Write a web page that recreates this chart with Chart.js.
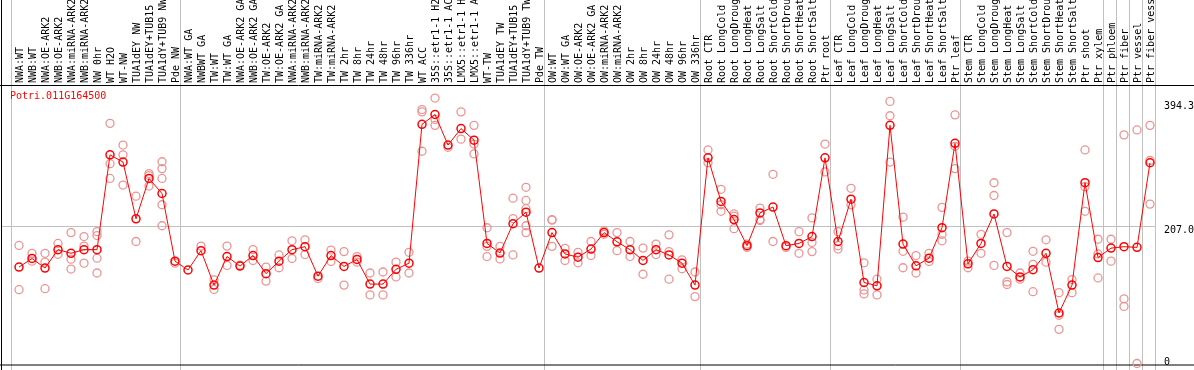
<!DOCTYPE html>
<html>
<head>
<meta charset="utf-8">
<script src="https://cdn.jsdelivr.net/npm/chart.js@4"></script>
<style>
  html, body { margin: 0; padding: 0; background: #fff; }
  canvas { display: block; }
</style>
</head>
<body>
<canvas id="myChart" width="1194" height="370"></canvas>
<script>
"use strict";

const geneName = "Potri.011G164500";

const categories = [
    "NWA:WT", "NWB:WT", "NWA:OE-ARK2", "NWB:OE-ARK2", "NWA:miRNA-ARK2", "NWB:miRNA-ARK2",
    "NW 0hr", "WT H2O", "WT-NW", "TUA1dEY NW", "TUA1dEY+TUB15", "TUA1dY+TUB9 NW", "Pde NW",
    "NWA:WT GA", "NWBWT GA", "TW:WT", "TW:WT GA", "NWA:OE-ARK2 GA", "NWB:OE-ARK2 GA",
    "TW:OE-ARK2", "TW:OE-ARK2 GA", "NWA:miRNA-ARK2", "NWB:miRNA-ARK2", "TW:miRNA-ARK2",
    "TW:miRNA-ARK2", "TW 2hr", "TW 8hr", "TW 24hr", "TW 48hr", "TW 96hr", "TW 336hr",
    "WT ACC", "35S::etr1-1 H2O", "35S::etr1-1 ACC", "LMX5::etr1-1 H2O", "LMX5::etr1-1 ACC",
    "WT-TW", "TUA1dEY TW", "TUA1dEY+TUB15", "TUA1dY+TUB9 TW", "Pde TW",
    "OW:WT", "OW:WT GA", "OW:OE-ARK2", "OW:OE-ARK2 GA", "OW:miRNA-ARK2", "OW:miRNA-ARK2",
    "OW 2hr", "OW 8hr", "OW 24hr", "OW 48hr", "OW 96hr", "OW 336hr",
    "Root CTR", "Root LongCold", "Root LongDrought", "Root LongHeat", "Root LongSalt",
    "Root ShortCold", "Root ShortDrought", "Root ShortHeat", "Root ShortSalt", "Ptr root",
    "Leaf CTR", "Leaf LongCold", "Leaf LongDrought", "Leaf LongHeat", "Leaf LongSalt",
    "Leaf ShortCold", "Leaf ShortDrought", "Leaf ShortHeat", "Leaf ShortSalt", "Ptr leaf",
    "Stem CTR", "Stem LongCold", "Stem LongDrought", "Stem LongHeat", "Stem LongSalt",
    "Stem ShortCold", "Stem ShortDrought", "Stem ShortHeat", "Stem ShortSalt", "Ptr shoot",
    "Ptr xylem", "Ptr phloem", "Ptr fiber", "Ptr vessel", "Ptr fiber vessel"
];

// index of the first category of every group (last entry = end)
const groupStarts = [0, 13, 41, 53, 63, 73, 84, 85, 86, 87, 88];

// mean expression per category
const expression = [
    144.9, 157.8, 143.4, 171.1, 165.6, 171.1, 171.1, 313.5, 302.7, 217.4, 278.0, 255.4, 153.8,
    140.5, 169.6, 117.8, 160.7, 146.4, 162.2, 135.0, 153.8, 171.1, 175.5, 131.2, 162.2, 145.9,
    156.3, 119.3, 119.3, 141.5, 150.8, 359.3, 374.1, 328.2, 352.9, 335.6, 180.4, 166.0, 210.0,
    227.3, 143.4,
    196.7, 164.6, 159.7, 172.0, 196.7, 182.9, 171.1, 154.8, 171.1, 163.1, 150.8, 117.8,
    309.0, 243.5, 216.3, 177.0, 226.2, 235.1, 177.0, 180.4, 190.7, 309.0,
    183.3, 246.9, 121.7, 116.8, 357.8, 179.4, 146.8, 158.2, 204.0, 330.8,
    149.8, 180.4, 224.7, 145.9, 130.1, 140.9, 165.6, 75.9, 117.8, 271.6, 159.2,
    173.4, 175.5, 174.5, 301.6
];

// single replicate values per category
const replicates = [
    [177.4, 110.9], [165.6, 153.8], [165.6, 152.3, 112.4], [180.4, 164.1], [196.7, 156.7, 141.9],
    [190.7, 176.4, 150.8], [198.1, 192.2, 158.2, 136.0], [360.8, 300.2, 278.0], [328.2, 313.5, 268.1],
    [251.4, 183.3], [285.4, 282.4, 266.6], [303.1, 292.8, 278.0, 238.5, 207.0], [150.8],
    [], [176.4], [111.3, 125.7], [176.4, 147.4], [147.9], [171.1, 154.8], [144.9, 123.8],
    [163.1, 143.9], [184.4, 157.8], [185.9, 163.7], [127.6], [170.5, 153.3], [168.1, 117.8],
    [160.7, 152.3], [136.0, 103.1], [137.5, 103.1], [152.3, 130.1], [167.1, 136.0],
    [381.5, 378.1, 318.9], [398.8, 366.7, 357.8], [324.8], [378.1, 337.1], [357.8, 329.7, 314.9],
    [204.0, 176.0, 160.7], [176.0, 157.2], [248.4, 217.8, 163.1], [264.7, 245.0, 232.6, 207.0, 196.7], [],
    [216.3, 215.4, 176.0], [173.0, 154.8], [167.1, 151.3], [183.3, 162.2], [199.2, 194.1],
    [196.7, 169.6], [183.3, 160.7], [173.4, 134.1], [179.4, 163.7], [193.3, 168.1, 126.7],
    [155.7, 142.4], [137.5, 100.5],
    [320.9, 301.6], [261.7, 238.5, 228.7], [224.7, 221.3, 202.6], [179.4, 174.5], [233.6, 216.3, 214.8],
    [284.3, 183.3], [174.5], [198.1, 165.6], [218.8, 181.9, 168.1], [329.7, 287.9],
    [198.1, 177.0, 172.0], [263.2, 238.5], [151.3, 110.5, 104.5], [126.7, 103.1], [393.8, 372.2, 302.7],
    [219.9, 168.6, 143.9], [162.2, 136.0], [165.6, 153.3], [234.6, 194.1, 184.4], [373.6, 326.3, 292.8],
    [153.8, 143.9], [194.1, 165.6], [271.6, 252.4, 147.4], [196.7, 122.7, 118.7], [136.0, 126.7],
    [168.6, 148.9, 107.9], [185.9, 152.3], [106.5, 72.5, 51.3], [126.1, 106.5], [320.9, 265.7, 228.7],
    [186.7, 164.6, 128.6],
    [186.7, 153.8], [343.5, 97.1, 85.8], [350.9, 0], [357.8, 305.0, 239.5]
];

const yTicks = [0, 207.0, 394.3];
const yTickLabels = ["0", "207.0", "394.3"];
const gridValue = 207.0;

const FONT = '10px "DejaVu Sans Mono", monospace';
const CELL_OFFSET = 8 / 13;   // points sit 8px into each 13px cell

const meanPoints = expression.map((v, i) => ({ x: i, y: v }));
const repPoints = [];
replicates.forEach((list, i) => list.forEach(v => repPoints.push({ x: i, y: v })));

const framePlugin = {
    id: 'frame',
    beforeDatasetsDraw(chart) {
        const ctx = chart.ctx;
        const xs = chart.scales.x;
        const ys = chart.scales.y;
        const area = chart.chartArea;
        const H = chart.height;
        const W = chart.width;
        ctx.save();
        ctx.lineWidth = 1;
        ctx.strokeStyle = '#c0c0c0';
        groupStarts.forEach(k => {
            const px = Math.round(xs.getPixelForValue(k - CELL_OFFSET)) + 0.5;
            ctx.beginPath();
            ctx.moveTo(px, 0);
            ctx.lineTo(px, H);
            ctx.stroke();
        });
        const gy = Math.round(ys.getPixelForValue(gridValue)) + 0.5;
        ctx.beginPath();
        ctx.moveTo(2, gy);
        ctx.lineTo(area.right + 1, gy);
        ctx.stroke();

        ctx.strokeStyle = '#000';
        ctx.beginPath();
        ctx.moveTo(1.5, 0);
        ctx.lineTo(1.5, H);
        ctx.moveTo(0, area.top + 0.5);
        ctx.lineTo(W, area.top + 0.5);
        ctx.moveTo(0, area.bottom + 0.5);
        ctx.lineTo(W, area.bottom + 0.5);
        ctx.stroke();
        ctx.restore();
    },
    afterDraw(chart) {
        const ctx = chart.ctx;
        const xs = chart.scales.x;
        const ys = chart.scales.y;
        const area = chart.chartArea;
        ctx.save();
        ctx.font = FONT;
        ctx.fillStyle = '#000';

        // category labels, rotated, standing on the frame line
        ctx.textAlign = 'left';
        ctx.textBaseline = 'middle';
        categories.forEach((label, i) => {
            const px = xs.getPixelForValue(i);
            ctx.save();
            ctx.translate(px + 1, area.top - 2);
            ctx.rotate(-Math.PI / 2);
            ctx.fillText(label, 0, 0);
            ctx.restore();
        });

        // value labels on the right
        yTicks.forEach((v, i) => {
            const py = Math.min(ys.getPixelForValue(v) + 5, 362);
            ctx.fillText(yTickLabels[i], area.right + 9, py);
        });

        // gene name
        ctx.fillStyle = '#ff0000';
        ctx.textBaseline = 'top';
        ctx.fillText(geneName, 10, area.top + 6);
        ctx.restore();
    }
};

new Chart(document.getElementById('myChart'), {
    type: 'line',
    data: {
        datasets: [{
            label: geneName,
            data: meanPoints,
            borderColor: '#ff0000',
            borderWidth: 1,
            pointRadius: 4,
            pointBorderWidth: 1.5,
            pointBorderColor: '#ff0000',
            pointBackgroundColor: 'rgba(0,0,0,0)',
            tension: 0,
            clip: false
        }, {
            label: 'replicates',
            data: repPoints,
            showLine: false,
            pointRadius: 4,
            pointBorderWidth: 1.3,
            pointBorderColor: '#ec9494',
            pointBackgroundColor: 'rgba(0,0,0,0)',
            clip: false
        }]
    },
    options: {
        responsive: false,
        animation: false,
        events: [],
        layout: { padding: { top: 85, left: 11, right: 39, bottom: 1 } },
        plugins: {
            legend: { display: false },
            tooltip: { enabled: false },
            title: { display: false }
        },
        scales: {
            x: {
                type: 'linear',
                display: false,
                min: -CELL_OFFSET,
                max: categories.length - CELL_OFFSET
            },
            y: {
                display: false,
                min: -1.479,
                max: 418.43
            }
        }
    },
    plugins: [framePlugin]
});
</script>
</body>
</html>
